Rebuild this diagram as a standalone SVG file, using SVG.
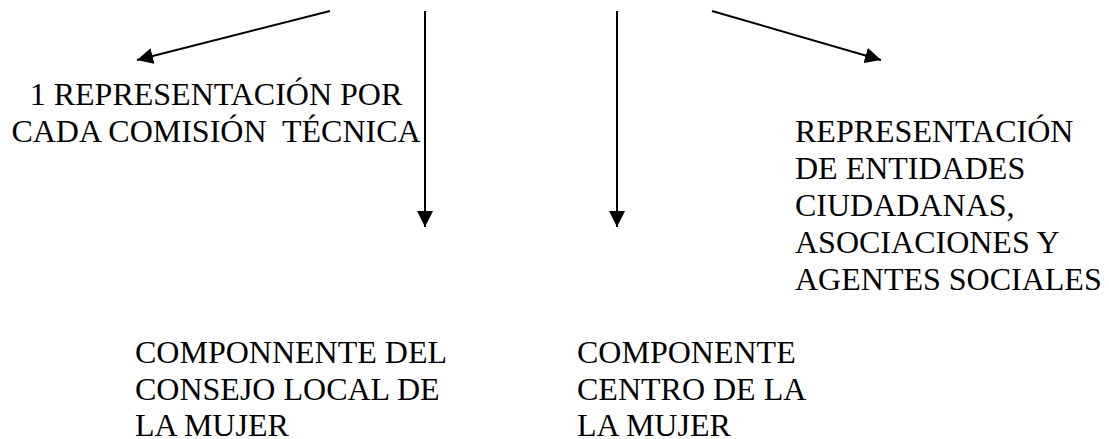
<svg xmlns="http://www.w3.org/2000/svg" width="1109" height="439" viewBox="0 0 1109 439">
<style>
  text { font-family: "Liberation Serif", "Times New Roman", "DejaVu Serif", serif; font-size: 32px; fill: #000; white-space: pre; }
  .ln { stroke: #000; stroke-width: 2; fill: none; }
</style>
<defs>
  <marker id="ah" markerUnits="userSpaceOnUse" markerWidth="16" markerHeight="16" viewBox="0 0 16 16" refX="16" refY="8" orient="auto">
    <path d="M0,0 L16,8 L0,16 Z" fill="#000"/>
  </marker>
</defs>
<rect width="1109" height="439" fill="#fff"/>
<g id="connectors">
  <line class="ln" x1="330" y1="11" x2="137" y2="60" marker-end="url(#ah)"/>
  <line class="ln" x1="425" y1="11" x2="425" y2="227" marker-end="url(#ah)"/>
  <line class="ln" x1="617" y1="11" x2="617" y2="227" marker-end="url(#ah)"/>
  <line class="ln" x1="712" y1="11" x2="881" y2="60" marker-end="url(#ah)"/>
</g>
<g id="node-comision" font-family="Liberation Serif, serif">
  <text x="216" y="105" text-anchor="middle">1 REPRESENTACIÓN POR</text>
  <text x="216" y="142" text-anchor="middle">CADA COMISIÓN  TÉCNICA</text>
</g>
<g id="node-entidades" font-family="Liberation Serif, serif">
  <text x="795" y="142">REPRESENTACIÓN</text>
  <text x="795" y="179">DE ENTIDADES</text>
  <text x="795" y="216">CIUDADANAS,</text>
  <text x="795" y="253">ASOCIACIONES Y</text>
  <text x="795" y="290">AGENTES SOCIALES</text>
</g>
<g id="node-consejo" font-family="Liberation Serif, serif">
  <text x="135" y="363">COMPONNENTE DEL</text>
  <text x="135" y="400">CONSEJO LOCAL DE</text>
  <text x="135" y="436">LA MUJER</text>
</g>
<g id="node-centro" font-family="Liberation Serif, serif">
  <text x="577" y="363">COMPONENTE</text>
  <text x="577" y="400">CENTRO DE LA</text>
  <text x="577" y="436">LA MUJER</text>
</g>
</svg>
